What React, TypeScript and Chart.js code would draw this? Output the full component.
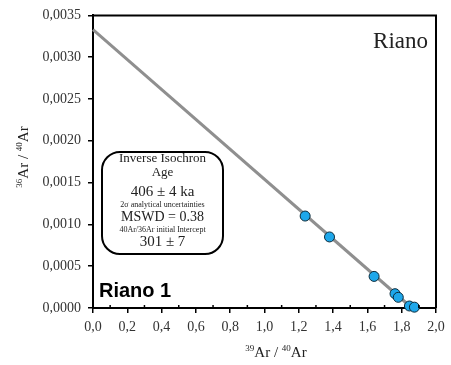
import React, { useEffect, useRef } from "react";
import { Chart, registerables } from "chart.js";

Chart.register(...registerables);

const xValues = [1.237, 1.379, 1.639, 1.761, 1.78, 1.845, 1.874];
const yValues = [0.0011, 0.00085, 0.000378, 0.000171, 0.000128, 0.000024, 0.00001];
const lineX = [0, 1.86];
const lineY = [0.00333, 0];
const boxLines = [
  "Inverse Isochron",
  "Age",
  "406 ± 4 ka",
  "2σ analytical uncertainties",
  "MSWD = 0.38",
  "40Ar/36Ar initial Intercept",
  "301 ± 7",
];
const sampleTitle = "Riano";
const sampleLabel = "Riano 1";

const SERIF = "'Liberation Serif', 'DejaVu Serif', serif";
const SANS = "'Liberation Sans', Arial, sans-serif";

function drawIso(ctx: CanvasRenderingContext2D, parts: [string, boolean][], big: number, small: number, cx: number, cy: number) {
  let w = 0;
  for (const [t, sup] of parts) {
    ctx.font = `${sup ? small : big}px ${SERIF}`;
    w += ctx.measureText(t).width;
  }
  let x = cx - w / 2;
  ctx.textAlign = "left";
  ctx.textBaseline = "alphabetic";
  for (const [t, sup] of parts) {
    ctx.font = `${sup ? small : big}px ${SERIF}`;
    ctx.fillText(t, x, sup ? cy - big * 0.42 : cy);
    x += ctx.measureText(t).width;
  }
}

const annotations = {
  id: "annotations",
  afterDraw(chart: any) {
    const ctx = chart.ctx as CanvasRenderingContext2D;
    const { left, right, top, bottom } = chart.chartArea;
    const xs = chart.scales.x;
    ctx.save();
    ctx.strokeStyle = "#000";
    ctx.lineWidth = 2;
    ctx.beginPath();
    ctx.moveTo(left, top);
    ctx.lineTo(right, top);
    ctx.lineTo(right, bottom);
    ctx.stroke();
    ctx.lineWidth = 1.5;
    for (let v = 0.1; v < 2; v += 0.2) {
      const px = xs.getPixelForValue(v);
      ctx.beginPath();
      ctx.moveTo(px, bottom);
      ctx.lineTo(px, bottom - 3);
      ctx.stroke();
    }
    ctx.fillStyle = "#222";
    drawIso(ctx, [["39", true], ["Ar / ", false], ["40", true], ["Ar", false]], 15, 9, 276, 357);
    ctx.save();
    ctx.translate(28, 157);
    ctx.rotate(-Math.PI / 2);
    drawIso(ctx, [["36", true], ["Ar / ", false], ["40", true], ["Ar", false]], 15, 9, 0, 0);
    ctx.restore();
    ctx.fillStyle = "#222";
    ctx.font = `23px ${SERIF}`;
    ctx.textAlign = "right";
    ctx.textBaseline = "middle";
    ctx.fillText(sampleTitle, 428, 42);
    ctx.fillStyle = "#000";
    ctx.font = `bold 20px ${SANS}`;
    ctx.textAlign = "left";
    ctx.fillText(sampleLabel, 99, 291);
    const bx = 102, by = 152, bw = 121, bh = 102, r = 18;
    ctx.beginPath();
    ctx.moveTo(bx + r, by);
    ctx.lineTo(bx + bw - r, by);
    ctx.arcTo(bx + bw, by, bx + bw, by + r, r);
    ctx.lineTo(bx + bw, by + bh - r);
    ctx.arcTo(bx + bw, by + bh, bx + bw - r, by + bh, r);
    ctx.lineTo(bx + r, by + bh);
    ctx.arcTo(bx, by + bh, bx, by + bh - r, r);
    ctx.lineTo(bx, by + r);
    ctx.arcTo(bx, by, bx + r, by, r);
    ctx.closePath();
    ctx.fillStyle = "#fff";
    ctx.fill();
    ctx.strokeStyle = "#000";
    ctx.lineWidth = 2;
    ctx.stroke();
    const cx = bx + bw / 2;
    const ys = [159, 173, 192, 205, 217.5, 229.5, 242];
    const sizes = [13, 13, 15, 8, 14, 8, 15];
    ctx.fillStyle = "#222";
    ctx.textAlign = "center";
    ctx.textBaseline = "middle";
    boxLines.forEach((t, i) => {
      ctx.font = `${sizes[i]}px ${SERIF}`;
      ctx.fillText(t, cx, ys[i]);
    });
    ctx.restore();
  },
};

export default function App() {
  const ref = useRef<HTMLCanvasElement>(null);
  useEffect(() => {
    if (!ref.current) return;
    const chart = new Chart(ref.current, {
      type: "scatter",
      data: {
        datasets: [
          {
            data: xValues.map((x, i) => ({ x, y: yValues[i] })),
            backgroundColor: "#1ea7ea",
            borderColor: "#0a2a3a",
            borderWidth: 1,
            pointRadius: 5,
            clip: false,
            order: 0,
          } as any,
          {
            type: "line",
            data: lineX.map((x, i) => ({ x, y: lineY[i] })),
            borderColor: "#8f8f8f",
            borderWidth: 3,
            pointRadius: 0,
            showLine: true,
            fill: false,
            clip: false,
            order: 1,
          } as any,
        ],
      },
      options: {
        responsive: false,
        animation: false,
        layout: { padding: { left: 0, right: 15, top: 15, bottom: 0 } },
        plugins: { legend: { display: false }, tooltip: { enabled: false } },
        scales: {
          x: {
            type: "linear",
            min: 0,
            max: 2,
            afterFit: (s: any) => { s.height = 57; },
            border: { display: true, color: "#000", width: 2 },
            grid: { drawOnChartArea: false, drawTicks: true, tickLength: 5, color: "#000", lineWidth: 1.5 },
            ticks: {
              stepSize: 0.2,
              padding: 6,
              color: "#333",
              font: { family: SERIF, size: 14 },
              maxRotation: 0,
              callback: (v: any) => Number(v).toFixed(1).replace(".", ","),
            },
          },
          y: {
            type: "linear",
            min: 0,
            max: 0.0035,
            afterFit: (s: any) => { s.width = 93; },
            border: { display: true, color: "#000", width: 2 },
            grid: { drawOnChartArea: false, drawTicks: true, tickLength: 5, color: "#000", lineWidth: 1.5 },
            ticks: {
              stepSize: 0.0005,
              padding: 7,
              color: "#333",
              font: { family: SERIF, size: 14 },
              callback: (v: any) => Number(v).toFixed(4).replace(".", ","),
            },
          },
        },
      },
      plugins: [annotations],
    });
    return () => chart.destroy();
  }, []);
  return (
    <div style={{ position: "fixed", left: 0, top: 0, width: 451, height: 365, background: "#fff" }}>
      <canvas ref={ref} width={451} height={365} />
    </div>
  );
}
